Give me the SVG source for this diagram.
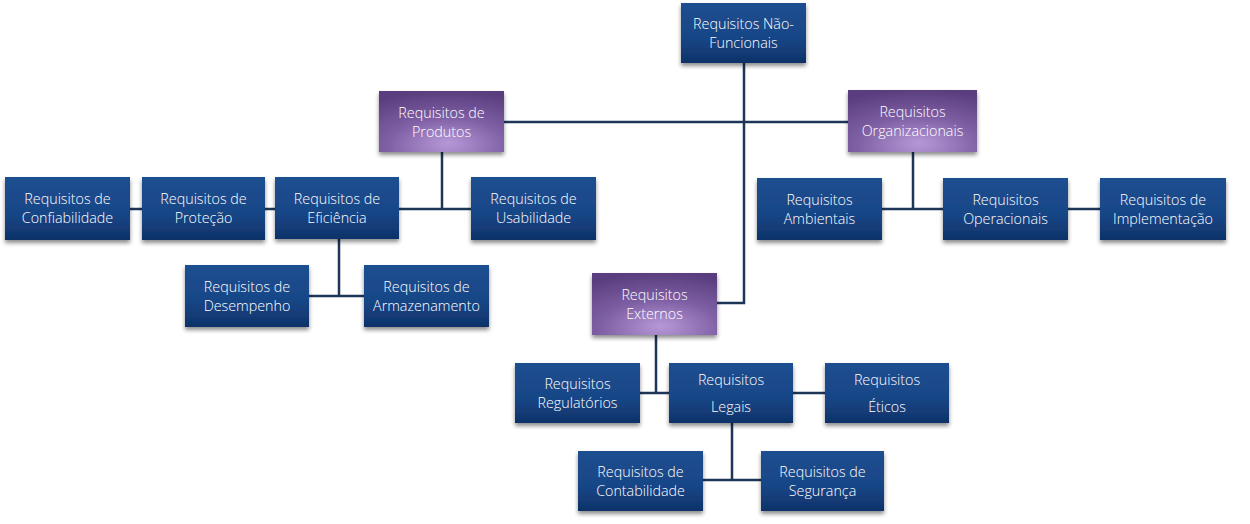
<svg xmlns="http://www.w3.org/2000/svg" width="1250" height="524" viewBox="0 0 1250 524">
<style>
.b rect{fill:url(#gb);filter:url(#sh)}
.p rect{fill:url(#gp);filter:url(#sh)}
text{font-family:"Open Sans","Noto Sans","Liberation Sans",sans-serif;font-size:14.3px;fill:#ffffff;text-anchor:middle;font-weight:300}
#connectors path{stroke:#1d3557;stroke-width:2.5;fill:none}
</style>
<defs>
<linearGradient id="gb" x1="0" y1="0" x2="0" y2="1">
<stop offset="0" stop-color="#1e4f90"/>
<stop offset="0.6" stop-color="#184586"/>
<stop offset="1" stop-color="#0e3268"/>
</linearGradient>
<radialGradient id="gp" cx="0.55" cy="1" r="1" fx="0.55" fy="0.85">
<stop offset="0" stop-color="#b697d6"/>
<stop offset="0.5" stop-color="#7d5ea3"/>
<stop offset="1" stop-color="#5a3e7e"/>
</radialGradient>
<filter id="sh" x="-10%" y="-10%" width="120%" height="135%">
<feDropShadow dx="0" dy="3" stdDeviation="2" flood-color="#000" flood-opacity="0.45"/>
</filter>
</defs>
<rect width="1250" height="524" fill="#ffffff"/>
<g id="connectors">
<path d="M744,63 V303 H717"/>
<path d="M504,122 H848"/>
<path d="M442,152 V209"/>
<path d="M130,209 H142 M265,209 H275 M399,209 H471"/>
<path d="M339,239 V296 M309,296 H364"/>
<path d="M913,152 V209 M882,209 H943 M1068,209 H1100"/>
<path d="M656,335 V393 M640,393 H669 M793,393 H825"/>
<path d="M732,423 V480 M703,480 H761"/>
</g>
<g id="root" class="b"><rect x="681" y="3" width="125" height="60"/><text x="743.5" y="29">Requisitos Não-</text><text x="743.5" y="48">Funcionais</text></g>
<g id="produtos" class="p"><rect x="379" y="91" width="125" height="61"/><text x="441.5" y="118">Requisitos de</text><text x="441.5" y="137">Produtos</text></g>
<g id="organizacionais" class="p"><rect x="848" y="90" width="129" height="62"/><text x="912.5" y="117">Requisitos</text><text x="912.5" y="136">Organizacionais</text></g>
<g id="confiabilidade" class="b"><rect x="5" y="177" width="125" height="63"/><text x="67.5" y="204">Requisitos de</text><text x="67.5" y="223">Confiabilidade</text></g>
<g id="protecao" class="b"><rect x="142" y="177" width="123" height="63"/><text x="203.5" y="204">Requisitos de</text><text x="203.5" y="223">Proteção</text></g>
<g id="eficiencia" class="b"><rect x="275" y="177" width="124" height="62"/><text x="337" y="204">Requisitos de</text><text x="337" y="223">Eficiência</text></g>
<g id="usabilidade" class="b"><rect x="471" y="177" width="125" height="63"/><text x="533.5" y="204">Requisitos de</text><text x="533.5" y="223">Usabilidade</text></g>
<g id="desempenho" class="b"><rect x="185" y="265" width="124" height="62"/><text x="247" y="292">Requisitos de</text><text x="247" y="311">Desempenho</text></g>
<g id="armazenamento" class="b"><rect x="364" y="265" width="125" height="62"/><text x="426.5" y="292">Requisitos de</text><text x="426.5" y="311">Armazenamento</text></g>
<g id="ambientais" class="b"><rect x="757" y="178" width="125" height="62"/><text x="819.5" y="205">Requisitos</text><text x="819.5" y="224">Ambientais</text></g>
<g id="operacionais" class="b"><rect x="943" y="178" width="125" height="62"/><text x="1005.5" y="205">Requisitos</text><text x="1005.5" y="224">Operacionais</text></g>
<g id="implementacao" class="b"><rect x="1100" y="178" width="126" height="62"/><text x="1163" y="205">Requisitos de</text><text x="1163" y="224">Implementação</text></g>
<g id="externos" class="p"><rect x="592" y="273" width="125" height="62"/><text x="654.5" y="300">Requisitos</text><text x="654.5" y="319">Externos</text></g>
<g id="regulatorios" class="b"><rect x="515" y="363" width="125" height="60"/><text x="577.5" y="389">Requisitos</text><text x="577.5" y="408">Regulatórios</text></g>
<g id="legais" class="b"><rect x="669" y="363" width="124" height="60"/><text x="731" y="385">Requisitos</text><text x="731" y="412">Legais</text></g>
<g id="eticos" class="b"><rect x="825" y="363" width="124" height="60"/><text x="887" y="385">Requisitos</text><text x="887" y="412">Éticos</text></g>
<g id="contabilidade" class="b"><rect x="578" y="451" width="125" height="60"/><text x="640.5" y="477">Requisitos de</text><text x="640.5" y="496">Contabilidade</text></g>
<g id="seguranca" class="b"><rect x="761" y="451" width="123" height="60"/><text x="822.5" y="477">Requisitos de</text><text x="822.5" y="496">Segurança</text></g>
</svg>
